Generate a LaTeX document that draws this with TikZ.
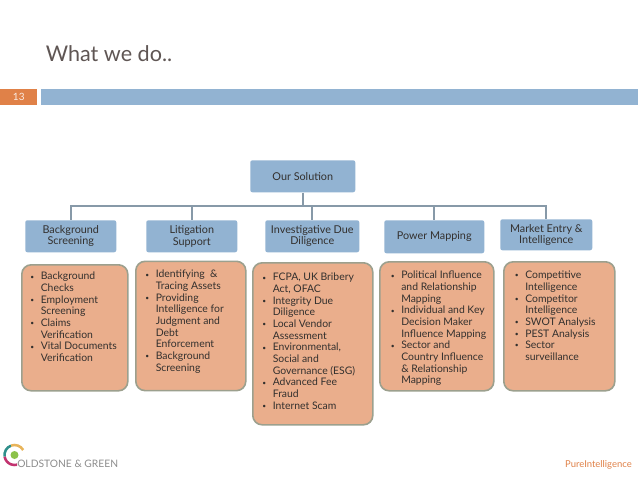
\documentclass[tikz,border=0pt]{standalone}
\usepackage{fontspec}
\setmainfont{Lato}
\definecolor{barblue}{HTML}{92B3D2}
\definecolor{numor}{HTML}{E08148}
\definecolor{orfill}{HTML}{EAAE8C}
\definecolor{orline}{HTML}{9CA08E}
\definecolor{wire}{HTML}{8799A8}
\definecolor{ink}{HTML}{33302E}
\definecolor{titleink}{HTML}{5F5654}
\definecolor{logoteal}{HTML}{2F8F8B}
\definecolor{logogold}{HTML}{E8B45A}
\definecolor{logomag}{HTML}{C2336F}
\definecolor{logogreen}{HTML}{8CC24A}
\newcommand{\itm}[1]{\makebox[7.9pt][l]{\raisebox{0.7pt}{\fontsize{5}{6}\selectfont\textbullet}}#1}
\newcommand{\cnt}[1]{\hspace*{7.9pt}#1}
\tikzset{
  x=0.75pt,y=-0.75pt,
  headbox/.style={fill=barblue,rounded corners=1.6pt,inner sep=0pt,text=ink,align=center,
    font=\fontsize{8.1}{8.6}\selectfont,anchor=north west},
  cardbox/.style={fill=orfill,draw=orline,line width=1.2pt,rounded corners=7pt,inner sep=0pt,anchor=north west},
  cardtext/.style={inner sep=0pt,anchor=north west,align=left,text=ink,font=\fontsize{7.8}{8.75}\selectfont},
  wireline/.style={draw=wire,line width=1.2pt},
  logoarc/.style={line width=1.9pt},
}
\begin{document}
\begin{tikzpicture}
\useasboundingbox (0,0) rectangle (638,479);
\fill[white] (0,0) rectangle (638,479);
% header
\node[anchor=base west,inner sep=0pt,text=titleink,font=\fontsize{16.2}{18}\selectfont] (title) at (45.5,61) {What we do..};
\node[fill=numor,minimum width=27.75pt,minimum height=12pt,inner sep=0pt,anchor=north west,text=white!85!numor,font=\fontsize{7.5}{8}\selectfont] (num) at (0,89) {13};
\node[fill=barblue,minimum width=447.75pt,minimum height=12pt,inner sep=0pt,anchor=north west] (bar) at (41,89) {};
% heads
\node[headbox,minimum width=78.75pt,minimum height=24pt] (sol) at (250,160) {Our Solution};
\node[headbox,minimum width=68.25pt,minimum height=24pt] (bg) at (25,220) {Background\\Screening};
\node[headbox,minimum width=68.25pt,minimum height=24pt] (lit) at (146,220) {Litigation\\Support};
\node[headbox,minimum width=70.5pt,minimum height=24pt] (inv) at (265,220) {Investigative Due\\Diligence};
\node[headbox,minimum width=75pt,minimum height=24.75pt] (pow) at (384,220) {Power Mapping};
\node[headbox,minimum width=69pt,minimum height=23.25pt] (mar) at (500,219) {Market Entry \&\\Intelligence};
% connectors
\coordinate (bus) at (302,206);
\draw[wireline] (sol.south) -- (sol.south |- bus) -| (bg.north);
\draw[wireline] (sol.south |- bus) -| (lit.north);
\draw[wireline] (sol.south |- bus) -| (inv.north);
\draw[wireline] (sol.south |- bus) -| (pow.north);
\draw[wireline] (sol.south |- bus) -| (mar.north);
% cards
\node[cardbox,minimum width=79.5pt,minimum height=94.5pt] (c1) at (21,264) {};
\node[cardbox,minimum width=82.5pt,minimum height=97pt] (c2) at (135,260.5) {};
\node[cardbox,minimum width=90pt,minimum height=121.5pt] (c3) at (252,262) {};
\node[cardbox,minimum width=85.5pt,minimum height=96.75pt] (c4) at (379,261) {};
\node[cardbox,minimum width=83.25pt,minimum height=96.75pt] (c5) at (503,261) {};
\node[cardtext] (t1) at (30,272) {\itm{Background}\\\cnt{Checks}\\\itm{Employment}\\\cnt{Screening}\\\itm{Claims}\\\cnt{Verification}\\\itm{Vital Documents}\\\cnt{Verification}};
\node[cardtext] (t2) at (145,270) {\itm{Identifying \ \&}\\\cnt{Tracing Assets}\\\itm{Providing}\\\cnt{Intelligence for}\\\cnt{Judgment and}\\\cnt{Debt}\\\cnt{Enforcement}\\\itm{Background}\\\cnt{Screening}};
\node[cardtext] (t3) at (262,273) {\itm{FCPA, UK Bribery}\\\cnt{Act, OFAC}\\\itm{Integrity Due}\\\cnt{Diligence}\\\itm{Local Vendor}\\\cnt{Assessment}\\\itm{Environmental,}\\\cnt{Social and}\\\cnt{Governance (ESG)}\\\itm{Advanced Fee}\\\cnt{Fraud}\\\itm{Internet Scam}};
\node[cardtext] (t4) at (390.5,271) {\itm{Political Influence}\\\cnt{and Relationship}\\\cnt{Mapping}\\\itm{Individual and Key}\\\cnt{Decision Maker}\\\cnt{Influence Mapping}\\\itm{Sector and}\\\cnt{Country Influence}\\\cnt{\& Relationship}\\\cnt{Mapping}};
\node[cardtext] (t5) at (514.5,271) {\itm{Competitive}\\\cnt{Intelligence}\\\itm{Competitor}\\\cnt{Intelligence}\\\itm{SWOT Analysis}\\\itm{PEST Analysis}\\\itm{Sector}\\\cnt{surveillance}};
% logo
\draw[logoarc,color=logoteal] ([shift={(110:7.5pt)}]14.5,455) arc[start angle=110,end angle=190,radius=7.5pt];
\draw[logoarc,color=logogold] ([shift={(30:7.5pt)}]14.5,455) arc[start angle=30,end angle=110,radius=7.5pt];
\draw[logoarc,color=logomag] ([shift={(190:7.5pt)}]14.5,455) arc[start angle=190,end angle=285,radius=7.5pt];
\fill[color=logogreen] (14.5,455) circle[radius=3pt];
\node[anchor=base west,inner sep=0pt,text=black!45,font=\fontsize{7.7}{8}\selectfont] (logotext) at (17,467) {OLDSTONE \& GREEN};
\node[anchor=base east,inner sep=0pt,text=numor,font=\fontsize{7.1}{8}\selectfont] (foot) at (632,467) {PureIntelligence};
\end{tikzpicture}
\end{document}
